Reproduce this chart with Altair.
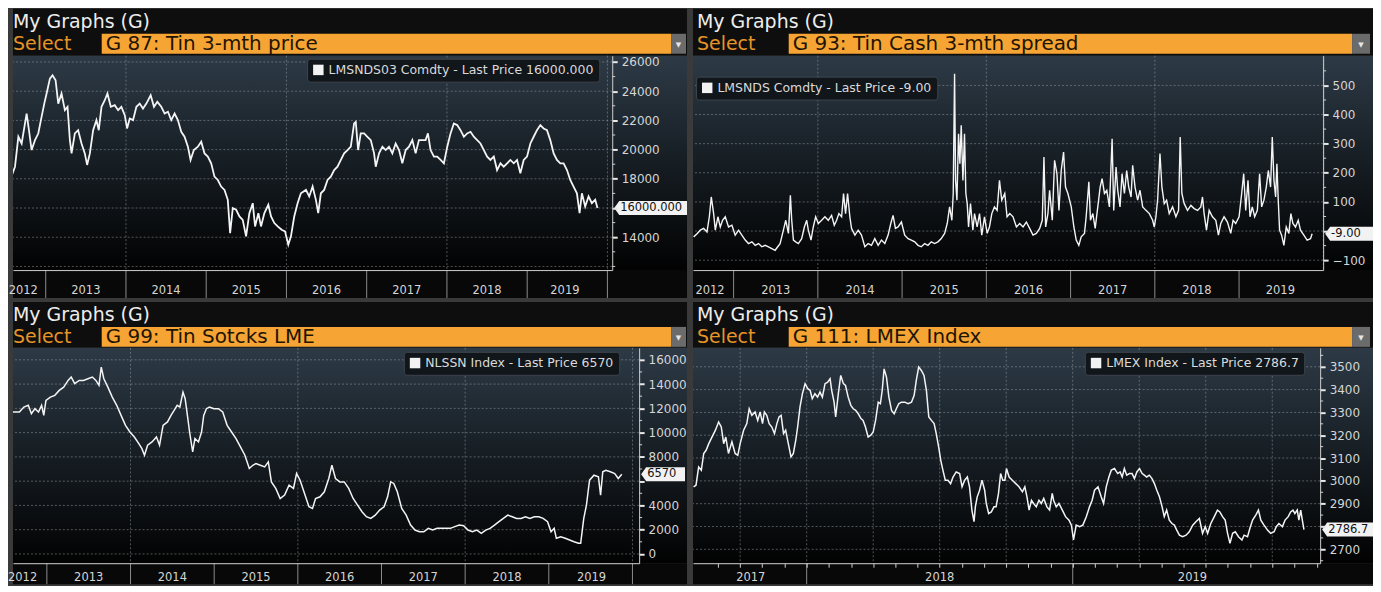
import altair as alt
import pandas as pd

FONT = "DejaVu Sans"

# ---------------- Panel 1 : G 87 Tin 3-mth price (decimal year, USD/t) ----------------
p1_t = [
    2012.555, 2012.617, 2012.659, 2012.700, 2012.762, 2012.791, 2012.824, 2012.866, 2012.907, 2012.940,
    2012.982, 2013.011, 2013.052, 2013.085, 2013.123, 2013.156, 2013.197, 2013.239, 2013.272, 2013.301,
    2013.322, 2013.363, 2013.404, 2013.446, 2013.487, 2013.516, 2013.550, 2013.591, 2013.632, 2013.661,
    2013.695, 2013.736, 2013.769, 2013.811, 2013.860, 2013.902, 2013.943, 2013.985, 2014.014, 2014.047,
    2014.088, 2014.130, 2014.171, 2014.212, 2014.254, 2014.308, 2014.349, 2014.391, 2014.440, 2014.482,
    2014.523, 2014.564, 2014.606, 2014.647, 2014.689, 2014.730, 2014.772, 2014.805, 2014.846, 2014.896,
    2014.938, 2014.979, 2015.020, 2015.062, 2015.103, 2015.145, 2015.186, 2015.228, 2015.269, 2015.298,
    2015.331, 2015.373, 2015.414, 2015.455, 2015.497, 2015.538, 2015.580, 2015.609, 2015.650, 2015.683,
    2015.725, 2015.774, 2015.808, 2015.849, 2015.891, 2015.940, 2015.982, 2016.023, 2016.056, 2016.097,
    2016.139, 2016.180,
    2016.243, 2016.284, 2016.326, 2016.367, 2016.396, 2016.429, 2016.470, 2016.512, 2016.553, 2016.595,
    2016.636, 2016.678, 2016.719, 2016.761, 2016.802, 2016.843, 2016.864, 2016.893, 2016.926, 2016.968,
    2017.009, 2017.051, 2017.092, 2017.113, 2017.154, 2017.196, 2017.237, 2017.278, 2017.320, 2017.361,
    2017.403, 2017.444, 2017.486, 2017.527, 2017.569, 2017.610, 2017.651, 2017.693, 2017.734, 2017.763,
    2017.796, 2017.838, 2017.879, 2017.921, 2017.962, 2018.004, 2018.045, 2018.086, 2018.128, 2018.169,
    2018.211, 2018.252, 2018.294, 2018.335, 2018.377, 2018.418, 2018.460, 2018.501, 2018.542, 2018.584,
    2018.625, 2018.667, 2018.708, 2018.750, 2018.791, 2018.833, 2018.874, 2018.915, 2018.957, 2018.998,
    2019.040, 2019.081, 2019.122, 2019.164, 2019.205, 2019.247, 2019.288, 2019.330, 2019.371, 2019.413,
    2019.454, 2019.496, 2019.537, 2019.578, 2019.620, 2019.653, 2019.682, 2019.723, 2019.765, 2019.806,
    2019.848, 2019.876,
]
p1_v = [
    17900, 18830, 20880, 20420, 22470, 21330, 19970, 20650, 21100, 22020,
    23150, 23840, 24860, 25090, 24750, 23150, 23840, 22700, 22930, 20650,
    19740, 21110, 21330, 20420, 19740, 18950, 19740, 21330, 22020, 21330,
    22930, 23380, 23840, 22930, 23040, 22700, 22930, 22360, 21450, 22130,
    22020, 22930, 23150, 22810, 23150, 23720, 22930, 23270, 22930, 22470,
    22590, 22020, 22470, 22020, 21220, 20880, 20200, 19290, 19970, 20200,
    20540, 19740, 19520, 19060, 18150, 17920, 17470, 17240, 16560, 14280,
    15990, 15880, 15420, 15190, 14060, 15650, 16330, 14740, 15650, 14740,
    15650, 16220, 15420, 14970, 14740, 14510, 14400, 13490, 14060, 15420,
    16330, 17010,
    17240, 16790, 17470, 16560, 15650, 17010, 17240, 17920, 18150, 18600,
    18830, 19290, 19740, 19970, 20200, 21790, 21900, 19970, 21110, 21110,
    20880, 20650, 19740, 18830, 19740, 20200, 19970, 20200, 19740, 20420,
    19970, 19060, 19970, 20200, 20650, 19740, 20650, 20650, 20650, 21110,
    19970, 19520, 19520, 19290, 19060, 20200, 21110, 21790, 21680, 21330,
    20880, 21110, 21220, 20880, 20650, 20420, 19970, 19520, 19290, 19520,
    18600, 19060, 18830, 19060, 19290, 19060, 19290, 18380, 19290, 19520,
    20420, 20880, 21330, 21680, 21450, 21330, 20650, 19740, 19290, 19060,
    19060, 18600, 17920, 17470, 17010, 15650, 17010, 16100, 16790, 16330,
    16560, 16000,
]

# ---------------- Panel 2 : G 93 Tin Cash 3-mth spread ----------------
p2_t = [
    2012.526, 2012.566, 2012.605, 2012.645, 2012.684, 2012.712, 2012.735, 2012.763, 2012.783, 2012.814,
    2012.842, 2012.869, 2012.901, 2012.940, 2012.980, 2013.019, 2013.059, 2013.098, 2013.138, 2013.177,
    2013.217, 2013.256, 2013.296, 2013.335, 2013.374, 2013.414, 2013.453, 2013.493, 2013.524, 2013.552,
    2013.591, 2013.619, 2013.651, 2013.674, 2013.690, 2013.710, 2013.737, 2013.769, 2013.808, 2013.840,
    2013.868, 2013.887, 2013.919, 2013.946, 2013.974, 2014.006, 2014.045, 2014.084, 2014.124, 2014.163,
    2014.195, 2014.223, 2014.250, 2014.282, 2014.305, 2014.329, 2014.353, 2014.380, 2014.400, 2014.440,
    2014.479, 2014.518, 2014.558, 2014.597, 2014.637, 2014.676, 2014.716, 2014.755, 2014.795, 2014.834,
    2014.866, 2014.893, 2014.921, 2014.952, 2014.992, 2015.031, 2015.071, 2015.110, 2015.150, 2015.189,
    2015.228, 2015.268, 2015.307, 2015.347, 2015.386, 2015.426, 2015.465, 2015.505, 2015.536, 2015.564,
    2015.591, 2015.607, 2015.623, 2015.635, 2015.651, 2015.670, 2015.686, 2015.702, 2015.722, 2015.741,
    2015.757, 2015.773, 2015.789, 2015.812, 2015.840, 2015.860, 2015.891, 2015.919, 2015.946, 2015.978,
    2016.010, 2016.037, 2016.065, 2016.096, 2016.128, 2016.156, 2016.183,
    2016.219, 2016.246, 2016.278, 2016.317, 2016.357, 2016.396, 2016.436, 2016.475, 2016.514, 2016.554,
    2016.593, 2016.633, 2016.664, 2016.684, 2016.704, 2016.731, 2016.751, 2016.783, 2016.810, 2016.838,
    2016.862, 2016.889, 2016.917, 2016.940, 2016.968, 2017.008, 2017.039, 2017.067, 2017.098, 2017.126,
    2017.165, 2017.185, 2017.217, 2017.236, 2017.264, 2017.292, 2017.323, 2017.351, 2017.374, 2017.402,
    2017.430, 2017.461, 2017.493, 2017.512, 2017.540, 2017.560, 2017.587, 2017.611, 2017.639, 2017.666,
    2017.690, 2017.718, 2017.737, 2017.765, 2017.796, 2017.824, 2017.856, 2017.895, 2017.935, 2017.974,
    2017.994, 2018.013, 2018.033, 2018.061, 2018.084, 2018.112, 2018.140, 2018.171, 2018.211, 2018.250,
    2018.282, 2018.301, 2018.321, 2018.349, 2018.388, 2018.428, 2018.467, 2018.507, 2018.546, 2018.566,
    2018.585, 2018.613, 2018.645, 2018.684, 2018.724, 2018.755, 2018.783, 2018.822, 2018.862, 2018.901,
    2018.929, 2018.960, 2019.000, 2019.031, 2019.055, 2019.079, 2019.106, 2019.130, 2019.157, 2019.185,
    2019.217, 2019.244, 2019.268, 2019.295, 2019.323, 2019.347, 2019.374, 2019.394, 2019.414, 2019.434,
    2019.449, 2019.465, 2019.481, 2019.505, 2019.532, 2019.560, 2019.591, 2019.615, 2019.639, 2019.670,
    2019.702, 2019.729, 2019.769, 2019.808, 2019.848, 2019.867,
]
p2_v = [
    -20, -9, 3, 9, -3, 49, 117, 60, 3, 49,
    14, 37, 49, 14, 20, -14, 3, -14, -31, -43,
    -37, -49, -43, -54, -49, -54, -60, -66, -54, -43,
    3, 37, -8, 123, 37, -31, -37, -43, -26, 14,
    37, 3, -31, 14, 49, 26, 37, 49, 37, 54,
    20, 37, 60, 49, 129, 60, 129, 49, 9, -14,
    3, -14, -54, -43, -49, -26, -49, -31, -43, -14,
    26, 54, 9, 14, 31, -14, -26, -31, -37, -49,
    -54, -43, -49, -37, -43, -37, -26, -8, 26, 83,
    37, 129, 540, 174, 106, 334, 231, 363, 174, 334,
    129, 94, 14, 94, 3, 60, 14, 60, -14, 49,
    -8, 14, 60, 83, 71, 174, 106,
    129, 49, 60, 49, 14, 26, 14, 31, 9, -14,
    -8, 9, 37, 254, 14, 60, 140, 37, 243, 197,
    71, 208, 271, 151, 129, 83, 14, -31, -49, -20,
    -8, 49, 169, 37, 60, 9, 83, 151, 180, 129,
    140, 83, 317, 71, 220, 140, 83, 197, 129, 208,
    151, 117, 226, 151, 106, 140, 83, 71, 60, 37,
    14, 49, 106, 266, 151, 94, 106, 60, 83, 49,
    71, 323, 129, 94, 71, 88, 77, 71, 83, 117,
    60, 3, 71, 49, 37, -14, 26, 49, 31, -8,
    37, 26, 49, 129, 197, 71, 174, 49, 83, 49,
    71, 197, 83, 106, 151, 208, 151, 323, 174, 117,
    231, 106, 3, -14, -49, 14, -8, 60, 26, 14,
    37, 3, -14, -31, -26, -9,
]

# ---------------- Panel 3 : G 99 Tin stocks LME (tonnes) ----------------
p3_t = [
    2012.551, 2012.620, 2012.672, 2012.725, 2012.778, 2012.815, 2012.857, 2012.900, 2012.937, 2012.963,
    2012.989, 2013.042, 2013.095, 2013.148, 2013.201, 2013.254, 2013.291, 2013.333, 2013.386, 2013.438,
    2013.491, 2013.544, 2013.586, 2013.623, 2013.650, 2013.681, 2013.729, 2013.782, 2013.835, 2013.887,
    2013.940, 2013.993, 2014.046, 2014.099, 2014.136, 2014.167, 2014.204, 2014.257, 2014.310, 2014.347,
    2014.389, 2014.442, 2014.484, 2014.521, 2014.558, 2014.590, 2014.627, 2014.653, 2014.680, 2014.706,
    2014.743, 2014.770, 2014.812, 2014.849, 2014.875, 2014.907, 2014.944, 2014.997, 2015.050, 2015.102,
    2015.155, 2015.208, 2015.261, 2015.314, 2015.367, 2015.420, 2015.462, 2015.499, 2015.552, 2015.604,
    2015.647, 2015.684, 2015.736, 2015.789, 2015.842, 2015.895, 2015.948, 2015.985, 2016.027, 2016.080,
    2016.133, 2016.175, 2016.212, 2016.265, 2016.317, 2016.370, 2016.407, 2016.450, 2016.502, 2016.555,
    2016.608, 2016.661, 2016.714, 2016.767, 2016.819, 2016.872, 2016.925, 2016.978, 2017.031, 2017.073,
    2017.110, 2017.147, 2017.189, 2017.242, 2017.295, 2017.348, 2017.400, 2017.453, 2017.506, 2017.559,
    2017.612, 2017.665, 2017.717, 2017.770, 2017.823, 2017.876, 2017.929, 2017.982, 2018.034, 2018.087,
    2018.140, 2018.193, 2018.246, 2018.298, 2018.351, 2018.404, 2018.457, 2018.510, 2018.563, 2018.615,
    2018.668, 2018.721, 2018.774, 2018.827, 2018.880, 2018.932, 2018.985, 2019.027, 2019.064, 2019.090,
    2019.143, 2019.196, 2019.249, 2019.302, 2019.355, 2019.381, 2019.418, 2019.450, 2019.487, 2019.540,
    2019.593, 2019.619, 2019.645, 2019.682, 2019.735, 2019.788, 2019.830, 2019.873,
]
p3_v = [
    11700, 11700, 11700, 12110, 12250, 11560, 11970, 11700, 12250, 11420,
    12660, 12930, 13070, 13480, 13750, 14300, 14580, 14030, 14300, 14300,
    14440, 14580, 14300, 13890, 15400, 14440, 13750, 12930, 12250, 11420,
    10600, 10050, 9640, 9100, 8680, 8140, 8960, 9230, 9640, 8960,
    10600, 10880, 11420, 11840, 12250, 12110, 13340, 12790, 11420, 10050,
    8410, 9510, 9230, 10050, 11420, 11970, 12110, 11970, 11970, 11700,
    10600, 10050, 9510, 8820, 8140, 7040, 7310, 7450, 7310, 7180,
    7590, 5940, 5400, 4570, 4850, 5670, 5400, 6630, 6080, 4990,
    3890, 3750, 4570, 4710, 5120, 6220, 7310, 6220, 5940, 5940,
    5400, 4570, 4030, 3480, 3070, 2930, 3200, 3620, 3890, 4710,
    5940, 5810, 5120, 3750, 3200, 2380, 1970, 1830, 1830, 2110,
    1970, 2110, 2110, 2110, 2110, 2250, 2380, 2330, 1970, 1830,
    1970, 1700, 1970, 2110, 2380, 2660, 2930, 3200, 3070, 2930,
    2930, 3070, 2930, 3070, 3070, 2930, 2660, 1830, 2110, 1290,
    1420, 1290, 1150, 1010, 880, 880, 2930, 4030, 6080, 6490,
    6360, 4850, 6770, 6900, 6770, 6630, 6220, 6570,
]

# ---------------- Panel 4 : G 111 LMEX Index ----------------
p4_t = [
    2017.575, 2017.584, 2017.594, 2017.604, 2017.613, 2017.622, 2017.632, 2017.644, 2017.657, 2017.669,
    2017.679, 2017.688, 2017.696, 2017.706, 2017.719, 2017.731, 2017.741, 2017.750, 2017.763, 2017.775,
    2017.784, 2017.794, 2017.806, 2017.816, 2017.825, 2017.834, 2017.841, 2017.850, 2017.859, 2017.869,
    2017.879, 2017.888, 2017.896, 2017.904, 2017.913, 2017.921, 2017.931, 2017.941, 2017.950, 2017.959,
    2017.966, 2017.975, 2017.984, 2017.994, 2018.004, 2018.013, 2018.021, 2018.031, 2018.041, 2018.050,
    2018.059, 2018.069, 2018.079, 2018.088, 2018.094, 2018.103, 2018.109, 2018.119, 2018.128, 2018.138,
    2018.146, 2018.156, 2018.166, 2018.175, 2018.184, 2018.194, 2018.204, 2018.212, 2018.221, 2018.231,
    2018.241, 2018.250, 2018.259, 2018.269, 2018.277, 2018.284, 2018.291, 2018.300, 2018.309, 2018.319,
    2018.329, 2018.337, 2018.346, 2018.356, 2018.369, 2018.381, 2018.394, 2018.404, 2018.412, 2018.421,
    2018.431, 2018.441, 2018.450, 2018.459, 2018.469, 2018.479, 2018.487, 2018.496, 2018.504, 2018.512,
    2018.521, 2018.531, 2018.541, 2018.550, 2018.562, 2018.575, 2018.584, 2018.594, 2018.604, 2018.612,
    2018.621, 2018.629, 2018.634, 2018.641, 2018.650, 2018.659, 2018.669, 2018.675, 2018.684, 2018.694,
    2018.704, 2018.712, 2018.721, 2018.729, 2018.737,
    2018.745, 2018.751, 2018.761, 2018.773, 2018.786, 2018.798, 2018.811, 2018.820, 2018.828, 2018.836,
    2018.845, 2018.853, 2018.863, 2018.873, 2018.882, 2018.891, 2018.903, 2018.913, 2018.923, 2018.928,
    2018.938, 2018.948, 2018.961, 2018.973, 2018.986, 2018.995, 2019.003, 2019.013, 2019.026, 2019.038,
    2019.051, 2019.063, 2019.073, 2019.082, 2019.095, 2019.107, 2019.116, 2019.126, 2019.136, 2019.145,
    2019.157, 2019.169, 2019.178, 2019.186, 2019.194, 2019.203, 2019.213, 2019.223, 2019.232, 2019.241,
    2019.251, 2019.261, 2019.269, 2019.278, 2019.288, 2019.298, 2019.307, 2019.316, 2019.326, 2019.336,
    2019.344, 2019.353, 2019.363, 2019.373, 2019.382, 2019.391, 2019.401, 2019.413, 2019.426, 2019.438,
    2019.451, 2019.463, 2019.476, 2019.488, 2019.498, 2019.507, 2019.519, 2019.532, 2019.544, 2019.553,
    2019.563, 2019.573, 2019.582, 2019.591, 2019.601, 2019.611, 2019.623, 2019.636, 2019.644, 2019.657,
    2019.666, 2019.676, 2019.688, 2019.698, 2019.707, 2019.719, 2019.732, 2019.744, 2019.757, 2019.765,
    2019.775, 2019.788, 2019.798, 2019.810, 2019.819, 2019.828, 2019.835, 2019.844, 2019.850, 2019.857,
    2019.863, 2019.869,
]
p4_v = [
    2974, 2981, 3061, 3047, 3120, 3134, 3163, 3192, 3222, 3258,
    3236, 3163, 3192, 3120, 3171, 3120, 3112, 3163, 3222, 3251,
    3316, 3287, 3302, 3265, 3302, 3251, 3302, 3287, 3251, 3236,
    3207, 3251, 3280, 3287, 3207, 3222, 3163, 3105, 3120, 3178,
    3236, 3324, 3382, 3426, 3404, 3397, 3360, 3382, 3367, 3389,
    3367, 3426, 3433, 3448, 3397, 3345, 3280, 3382, 3462, 3426,
    3418, 3367, 3331, 3316, 3309, 3294, 3273, 3265, 3236, 3192,
    3200, 3214, 3265, 3345, 3338, 3397, 3491, 3455, 3367, 3309,
    3294, 3316, 3338, 3345, 3345, 3338, 3345, 3375, 3440, 3499,
    3484, 3462, 3397, 3280, 3265, 3251, 3207, 3149, 3090, 3047,
    3003, 3003, 2988, 3017, 3039, 3032, 2974, 3003, 3017, 2974,
    2872, 2821, 2886, 2930, 2959, 3003, 2959, 2901, 2857, 2864,
    2886, 2886, 2945, 3032, 3003,
    3003, 3054, 3017, 3003, 2988, 2974, 2952, 2974, 2930, 2872,
    2915, 2901, 2886, 2915, 2901, 2923, 2886, 2872, 2945, 2915,
    2886, 2901, 2872, 2843, 2828, 2806, 2741, 2806, 2799, 2806,
    2843, 2886, 2915, 2959, 2974, 2930, 2901, 2974, 3017, 3047,
    3054, 3032, 3039, 3017, 3054, 3025, 3032, 3032, 3010, 3039,
    3054, 3032, 3025, 3017, 3025, 3010, 2988, 2959, 2930, 2886,
    2843, 2872, 2828, 2813, 2806, 2784, 2762, 2755, 2762, 2777,
    2806, 2821, 2835, 2770, 2799, 2770, 2813, 2843, 2872, 2864,
    2843, 2828, 2770, 2726, 2770, 2777, 2755, 2741, 2762, 2755,
    2792, 2828, 2850, 2872, 2828, 2806, 2784, 2770, 2777, 2799,
    2813, 2799, 2828, 2843, 2864, 2872, 2857, 2872, 2828, 2872,
    2828, 2786.7,
]

# ---------------- texts / ticks ----------------
titles = ["G 87: Tin 3-mth price", "G 93: Tin Cash 3-mth spread",
          "G 99: Tin Sotcks LME", "G 111: LMEX Index"]
legend_names = ["LMSNDS03 Comdty - Last Price 16000.000", "LMSNDS Comdty - Last Price -9.00",
                "NLSSN Index - Last Price 6570", "LMEX Index - Last Price 2786.7"]
last_texts = ["16000.000", "-9.00", "6570", "2786.7"]

years_long = ["2012", "2013", "2014", "2015", "2016", "2017", "2018", "2019"]
p1_year_pos = [2012.72, 2013.5, 2014.5, 2015.5, 2016.5, 2017.5, 2018.5, 2019.47]
p2_year_pos = [2012.72, 2013.5, 2014.5, 2015.5, 2016.5, 2017.5, 2018.5, 2019.49]
p3_year_pos = [2012.71, 2013.5, 2014.5, 2015.5, 2016.5, 2017.5, 2018.5, 2019.51]
years_short = ["2017", "2018", "2019"]
p4_year_pos = [2017.79, 2018.5, 2019.45]

year_seps = [2013, 2014, 2015, 2016, 2017, 2018, 2019, 2020]
two_year_grid = [2014, 2016, 2018, 2020]
p4_seps = [2018, 2019]
p4_quarter_grid = [2017.75, 2018.0, 2018.25, 2018.5, 2018.75, 2019.0, 2019.25, 2019.5, 2019.75]
p4_month_ticks = [2017.667, 2017.75, 2017.833, 2017.917,
                  2018.0, 2018.083, 2018.167, 2018.25, 2018.333, 2018.417, 2018.5, 2018.583,
                  2018.667, 2018.75, 2018.833, 2018.917,
                  2019.0, 2019.083, 2019.167, 2019.25, 2019.333, 2019.417, 2019.5, 2019.583,
                  2019.667, 2019.75, 2019.833, 2019.917]

# right-axis ticks; labels hidden where the last-price box sits on top of them
p1_yticks = [14000, 16000, 18000, 20000, 22000, 24000, 26000]
p1_yhidden = [16000]
p1_ygrid = [12000, 14000, 16000, 18000, 20000, 22000, 24000, 26000]
p1_yminor = [12000, 13000, 15000, 17000, 19000, 21000, 23000, 25000]
p2_yticks = [-100, 0, 100, 200, 300, 400, 500]
p2_yhidden = [0]
p2_yminor = [-50, 50, 150, 250, 350, 450, 550]
p3_yticks = [0, 2000, 4000, 6000, 8000, 10000, 12000, 14000, 16000]
p3_yhidden = [6000]
p3_yminor = [1000, 3000, 5000, 7000, 9000, 11000, 13000, 15000]
p4_yticks = [2700, 2800, 2900, 3000, 3100, 3200, 3300, 3400, 3500]
p4_yhidden = [2800]
p4_yminor = [2650, 2750, 2850, 2950, 3050, 3150, 3250, 3350, 3450, 3550]

# ---------------- styling ----------------
ORANGE_BAR = "#f6a534"
ORANGE_TXT = "#e59428"
HDR_BG = "#0e0e0e"
BAND_BG = "#080808"
GRID_C = "#9aa2aa"
AXIS_C = "#cfcfcf"
LABEL_C = "#d6d6d6"
GRAD = alt.LinearGradient(
    gradient="linear", x1=0, x2=0, y1=0, y2=1,
    stops=[alt.GradientStop(color="#2d3a46", offset=0),
           alt.GradientStop(color="#161d23", offset=0.5),
           alt.GradientStop(color="#020202", offset=1)])


def make_panel(t, v, title, legend_name, last_text, W, H, top, band, ext, col,
               xdom, ydom, yticks, yhidden, yminor, ygrid, xgrid, seps, ylabs, ylabs_pos,
               lab_off, box_w, legend_xy, xticks=None, lw=1.4):
    one = pd.DataFrame({"k": [0]})
    xs = alt.Scale(domain=xdom, nice=False, zero=False)
    ys = alt.Scale(domain=ydom, nice=False, zero=False)

    xkw = dict(title=None, labels=False, grid=False, domain=True, domainColor=AXIS_C,
               domainWidth=1, zindex=1)
    if xticks:
        xkw.update(ticks=True, values=xticks, tickSize=4, tickColor=AXIS_C)
    else:
        xkw.update(ticks=False)
    xaxis = alt.Axis(**xkw)
    hide = " || ".join(f"datum.value == {h}" for h in yhidden)
    yaxis = alt.Axis(orient="right", title=None, values=yticks, format="d", grid=False,
                     labelExpr=f"({hide}) ? '' : datum.label",
                     labelColor=LABEL_C, labelFont=FONT, labelFontSize=12, tickColor="#e8e8e8",
                     tickSize=5, tickWidth=2, domainColor=AXIS_C, domainWidth=1, labelPadding=4,
                     zindex=1)

    if col == "left":
        tx, bx0, bx1, dx1 = 0, 89, 660, 675
    else:
        tx, bx0, bx1, dx1 = 4, 96, 661, 679
    ttl_base = top + 19
    sel_base = top + 41
    bar_y0 = top + 25
    bar_y1 = top + 45

    def rect(color, x0, x1, y0, y1):
        return alt.Chart(one).mark_rect(color=color).encode(
            x=alt.value(x0), x2=alt.value(x1), y=alt.value(y0), y2=alt.value(y1))

    def text(s, x, y, color, size, align="left", baseline="alphabetic"):
        return alt.Chart(one).mark_text(text=s, align=align, baseline=baseline, color=color,
                                        fontSize=size, font=FONT).encode(
            x=alt.value(x), y=alt.value(y))

    L = [rect(HDR_BG, 0, ext, top, 0), rect(GRAD, 0, ext, 0, H), rect(BAND_BG, 0, ext, H, H + band)]
    L += [text("My Graphs (G)", tx, ttl_base, "#ececec", 19),
          text("Select", tx, sel_base, ORANGE_TXT, 19),
          rect(ORANGE_BAR, bx0, bx1, bar_y0, bar_y1),
          rect("#6b6b6b", bx1, dx1, bar_y0, bar_y1),
          text("\u25BC", (bx1 + dx1) / 2, (bar_y0 + bar_y1) / 2 + 1, "#e6e6e6", 7,
               align="center", baseline="middle"),
          text(title, bx0 + 4, sel_base, "#1e1400", 20)]

    # dotted grid
    L.append(alt.Chart(pd.DataFrame({"g": xgrid})).mark_rule(
        color=GRID_C, strokeDash=[2, 2], strokeWidth=1, opacity=0.5).encode(
        x=alt.X("g:Q", scale=xs, axis=xaxis)))
    L.append(alt.Chart(pd.DataFrame({"g": ygrid})).mark_rule(
        color=GRID_C, strokeDash=[2, 2], strokeWidth=1, opacity=0.5).encode(
        y=alt.Y("g:Q", scale=ys, axis=yaxis)))
    # year separators and labels
    L.append(alt.Chart(pd.DataFrame({"s": seps})).mark_rule(color="#8c8c8c", strokeWidth=1).encode(
        x=alt.X("s:Q", scale=xs, axis=xaxis), y=alt.value(H), y2=alt.value(H + band)))
    L.append(alt.Chart(pd.DataFrame({"p": ylabs_pos, "y": ylabs})).mark_text(
        color=LABEL_C, fontSize=11.5, font=FONT, baseline="middle").encode(
        x=alt.X("p:Q", scale=xs, axis=xaxis), y=alt.value(H + lab_off), text="y:N"))
    # minor ticks on right axis
    L.append(alt.Chart(pd.DataFrame({"m": yminor})).mark_rule(color=AXIS_C, strokeWidth=1).encode(
        y=alt.Y("m:Q", scale=ys, axis=yaxis), x=alt.value(W), x2=alt.value(W + 3)))

    df = pd.DataFrame(list(zip(t, v)), columns=["t", "v"])
    L.append(alt.Chart(df).mark_line(color="#f4f4f4", strokeWidth=lw, clip=True).encode(
        x=alt.X("t:Q", scale=xs, axis=xaxis), y=alt.Y("v:Q", scale=ys, axis=yaxis)))

    # last value box + legend
    leg = alt.Legend(orient="none", legendX=legend_xy[0], legendY=legend_xy[1], title=None,
                     fillColor="#11161b", strokeColor="#3d444c", cornerRadius=3, padding=5,
                     symbolType="square", symbolSize=110, symbolFillColor="#ffffff",
                     symbolStrokeWidth=0, labelColor="#dadada", labelFont=FONT,
                     labelFontSize=12.5, labelLimit=600)
    hb = 7.0 / (box_w / 2)
    a = -1 + 5.0 / (box_w / 2)
    shape = f"M-1,0L{a:.3f},{-hb:.3f}L1,{-hb:.3f}L1,{hb:.3f}L{a:.3f},{hb:.3f}Z"
    bd = pd.DataFrame({"v": [v[-1]], "s": [legend_name], "lbl": [last_text]})
    L.append(alt.Chart(bd).mark_point(shape=shape, filled=True, size=box_w ** 2, opacity=1,
                                      strokeWidth=0).encode(
        x=alt.value(W + 2 + box_w / 2), y=alt.Y("v:Q", scale=ys, axis=yaxis),
        color=alt.Color("s:N", scale=alt.Scale(domain=[legend_name], range=["#f2f2f2"]), legend=leg)))
    L.append(alt.Chart(bd).mark_text(align="left", baseline="middle", color="#111111",
                                     fontSize=11.5, font=FONT).encode(
        x=alt.value(W + 8), y=alt.Y("v:Q", scale=ys, axis=yaxis), text="lbl:N"))
    return alt.layer(*L).properties(width=W, height=H)


p1 = make_panel(p1_t, p1_v, titles[0], legend_names[0], last_texts[0], W=601, H=215, top=-47, band=28,
                ext=676, col="left", xdom=[2012.592, 2020.06], ydom=[11750, 26430],
                yticks=p1_yticks, yhidden=p1_yhidden, yminor=p1_yminor, ygrid=p1_ygrid,
                xgrid=two_year_grid, seps=year_seps, ylabs=years_long, ylabs_pos=p1_year_pos,
                lab_off=21, box_w=73, legend_xy=(295, 3), lw=1.8)
p2 = make_panel(p2_t, p2_v, titles[1], legend_names[1], last_texts[1], W=632, H=215, top=-47, band=28,
                ext=682, col="right", xdom=[2012.518, 2019.998], ydom=[-134, 602],
                yticks=p2_yticks, yhidden=p2_yhidden, yminor=p2_yminor, ygrid=p2_yticks,
                xgrid=two_year_grid, seps=year_seps[:-1], ylabs=years_long, ylabs_pos=p2_year_pos,
                lab_off=21, box_w=48, legend_xy=(3, 21), lw=1.4)
p3 = make_panel(p3_t, p3_v, titles[2], legend_names[2], last_texts[2], W=628, H=216, top=-46, band=21,
                ext=676, col="left", xdom=[2012.595, 2020.08], ydom=[-764, 16986],
                yticks=p3_yticks, yhidden=p3_yhidden, yminor=p3_yminor, ygrid=p3_yticks,
                xgrid=two_year_grid, seps=year_seps, ylabs=years_long, ylabs_pos=p3_year_pos,
                lab_off=15, box_w=44, legend_xy=(392, 4), lw=1.5)
p4 = make_panel(p4_t, p4_v, titles[3], legend_names[3], last_texts[3], W=629, H=216, top=-46, band=21,
                ext=682, col="right", xdom=[2017.5727, 2019.93], ydom=[2639, 3583],
                yticks=p4_yticks, yhidden=p4_yhidden, yminor=p4_yminor, ygrid=p4_yticks,
                xgrid=p4_quarter_grid, seps=p4_seps, ylabs=years_short, ylabs_pos=p4_year_pos,
                lab_off=15, box_w=51, legend_xy=(393, 4), xticks=p4_month_ticks, lw=1.5)

left = alt.vconcat(p1, p3, spacing=3).resolve_scale(
    x="independent", y="independent", color="independent").resolve_legend(color="independent")
right = alt.vconcat(p2, p4, spacing=3).resolve_scale(
    x="independent", y="independent", color="independent").resolve_legend(color="independent")
chart = alt.hconcat(left, right, spacing=5).resolve_scale(
    x="independent", y="independent", color="independent").resolve_legend(
    color="independent").properties(padding=0).configure(
    background="#3a3a3a", font=FONT).configure_view(strokeWidth=0)

chart.save("out.html", embed_options={"renderer": "svg", "actions": False})
